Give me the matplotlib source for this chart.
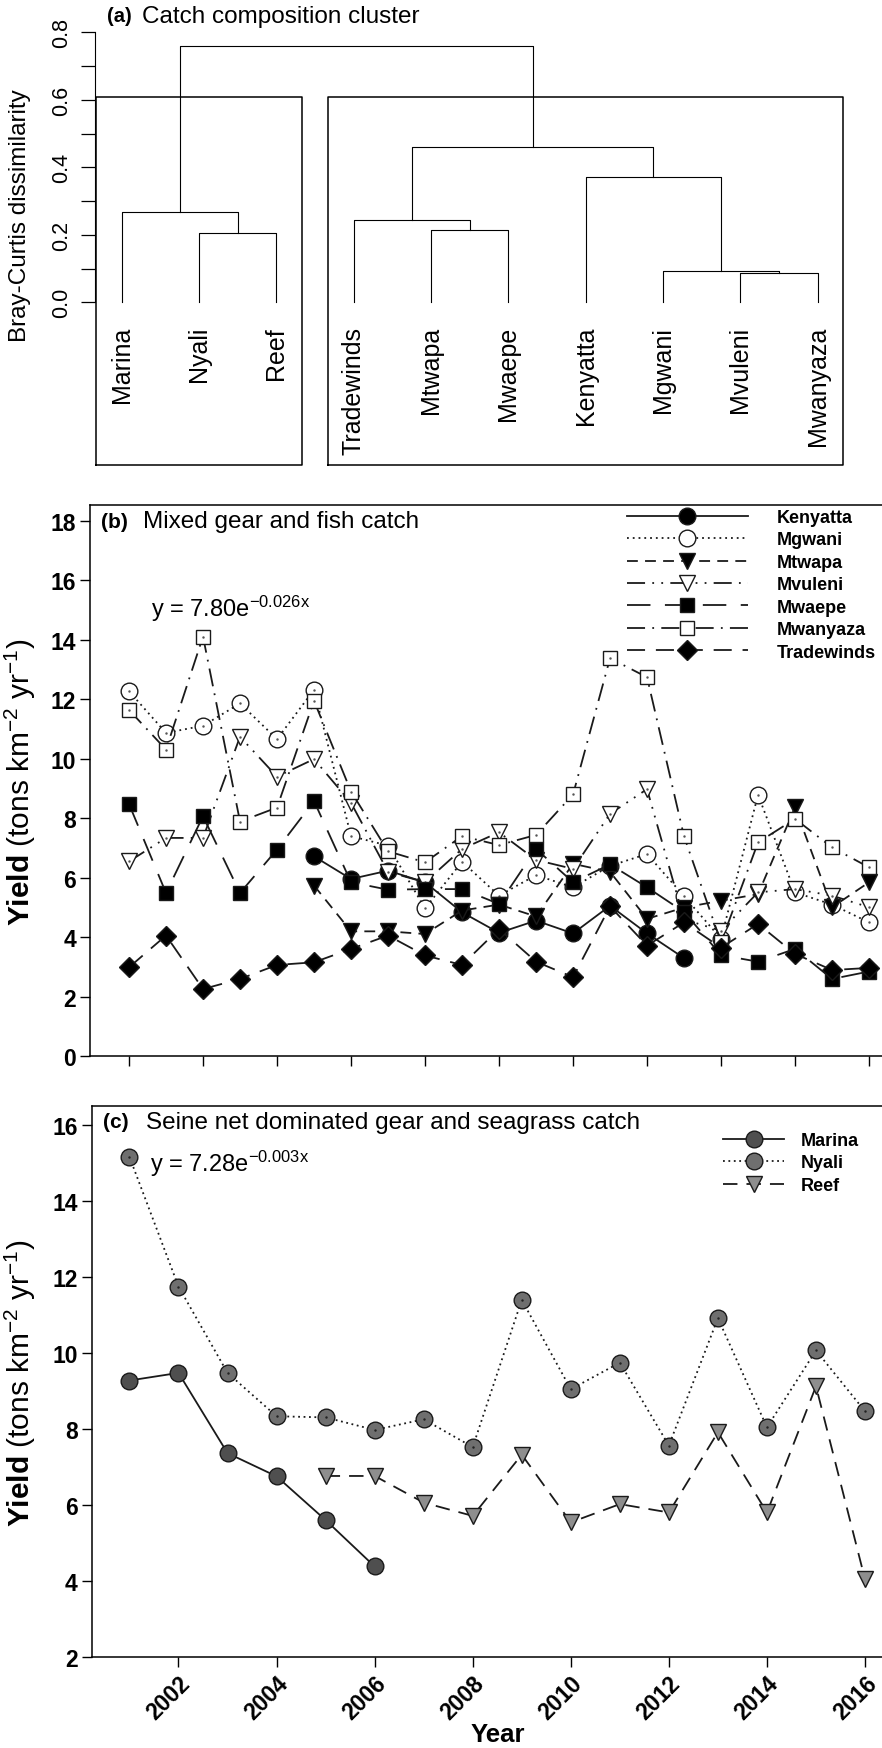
import numpy as np
import matplotlib
matplotlib.use("Agg")
import matplotlib.pyplot as plt
from matplotlib.lines import Line2D

plt.rcParams['font.family'] = ['Liberation Sans', 'DejaVu Sans']
plt.rcParams['mathtext.fontset'] = 'custom'
plt.rcParams['mathtext.rm'] = 'Liberation Sans'
plt.rcParams['mathtext.it'] = 'Liberation Sans:italic'
plt.rcParams['mathtext.bf'] = 'Liberation Sans:bold'

nan = np.nan

# ---- (a) cluster: leaves in plotted order, merges as (left, right, height)
# ints >= 0 are leaves, -k is the k-th merge (1-based)
leaves = ["Marina", "Nyali", "Reef", "Tradewinds", "Mtwapa", "Mwaepe",
          "Kenyatta", "Mgwani", "Mvuleni", "Mwanyaza"]
merges = [(1, 2, 0.205), (0, -1, 0.266), (4, 5, 0.213), (3, -3, 0.243),
          (8, 9, 0.088), (7, -5, 0.094), (6, -6, 0.372), (-4, -7, 0.459),
          (-2, -8, 0.760)]
groups = [(0.67, 3.33), (3.67, 10.33)]
group_top = 0.609
group_bottom = -0.481

# ---- (b) mixed gear sites, 21 sampling points
idx_b = np.arange(21)
kenyatta = [nan] * 5 + [6.72, 5.96, 6.24, 5.85, 4.84, 4.15, 4.56, 4.13, 5.06, 4.13, 3.30] + [nan] * 5
mgwani = [12.27, 10.87, 11.11, 11.86, 10.66, 12.32, 7.40, 7.08, 4.97, 6.54, 5.40,
          6.09, 5.68, 6.40, 6.80, 5.38, 3.95, 8.79, 5.51, 5.10, 4.50]
mtwapa = [nan] * 5 + [5.74, 4.20, 4.20, 4.11, 4.90, 5.10, 4.70, 6.47, 6.20, 4.62,
                      5.00, 5.23, 5.45, 8.37, 5.01, 5.85]
mvuleni = [6.55, 7.34, 7.34, 10.74, 9.40, 9.99, 8.52, 6.20, 5.85, 6.97, 7.53,
           6.60, 6.30, 8.15, 8.98, 4.60, 4.22, 5.51, 5.62, 5.40, 5.01]
mwaepe = [8.48, 5.49, 8.07, 5.49, 6.95, 8.58, 5.85, 5.60, 5.62, 5.62, 5.12,
          6.97, 5.85, 6.45, 5.68, 4.85, 3.40, 3.18, 3.61, 2.60, 2.85]
mwanyaza = [11.64, 10.31, 14.11, 7.89, 8.36, 11.95, 8.90, 6.89, 6.52, 7.40, 7.10,
            7.44, 8.80, 13.38, 12.74, 7.39, 3.83, 7.19, 7.98, 7.02, 6.35]
tradewinds = [2.99, 4.06, 2.26, 2.60, 3.07, 3.16, 3.61, 4.06, 3.39, 3.07, 4.28,
              3.18, 2.66, 5.04, 3.72, 4.50, 3.65, 4.45, 3.44, 2.90, 2.97]
eq_b = r"y = 7.80e$^{\mathrm{-0.026x}}$"

# ---- (c) seine net sites
years_c = np.arange(2001, 2017)
marina = [9.27, 9.47, 7.36, 6.75, 5.60, 4.38] + [nan] * 10
nyali = [15.15, 11.74, 9.47, 8.33, 8.30, 7.97, 8.25, 7.52, 11.39, 9.04, 9.74,
         7.56, 10.91, 8.04, 10.06, 8.46]
reef = [nan] * 4 + [6.76, 6.76, 6.06, 5.71, 7.32, 5.54, 6.02, 5.80, 7.91, 5.80, 9.12, 4.04]
eq_c = r"y = 7.28e$^{\mathrm{-0.003x}}$"

W, H = 882, 1749
fig = plt.figure(figsize=(W / 100, H / 100), dpi=100)


def px_axes(l, t, r, b):
    return fig.add_axes([l / W, 1 - b / H, (r - l) / W, (b - t) / H])


def fig_text(x, y, s, **kw):
    return fig.text(x / W, 1 - y / H, s, **kw)


# ================= panel (a)
ax = px_axes(94.5, 16.4, 882, 472)
ax.set_xlim(0.651, 10.83)
ax.set_ylim(-0.5, 0.85)
nodes = []


def node(k):
    if k >= 0:
        return k + 1, 0.0
    return nodes[-k - 1]


for a, b, h in merges:
    xa, ha = node(a)
    xb, hb = node(b)
    ax.plot([xa, xa, xb, xb], [ha, h, h, hb], color="black", lw=0.8)
    nodes.append(((xa + xb) / 2, h))

for x0, x1 in groups:
    ax.plot([x0, x0, x1, x1, x0], [group_bottom, group_top, group_top, group_bottom, group_bottom],
            color="black", lw=1.1, clip_on=False)

for i, name in enumerate(leaves):
    ax.text(i + 1, -0.07, name, rotation=90, ha="center", va="top", fontsize=18)

for s in ["top", "right", "bottom"]:
    ax.spines[s].set_visible(False)
ax.spines["left"].set_bounds(0, 0.8)
ax.set_xticks([])
ax.set_yticks([0, 0.2, 0.4, 0.6, 0.8])
ax.set_yticklabels(["0.0", "0.2", "0.4", "0.6", "0.8"], rotation=90, va="center")
ax.set_yticks([0.1, 0.3, 0.5, 0.7], minor=True)
ax.tick_params(axis="y", which="both", length=10, width=0.9, labelsize=15.5, pad=6)
fig_text(20, 216, "Bray-Curtis dissimilarity", rotation=90, ha="center", va="center", fontsize=17.5)
fig_text(107, 17, "(a)", fontweight="bold", fontsize=14.5, va="center")
fig_text(142, 17, "Catch composition cluster", fontsize=17.5, va="center")

# ================= panel (b)
ax = px_axes(90, 506, 892, 1057.3)
ax.set_xlim(-1.054, 20.62)
ax.set_ylim(0, 18.53)
series_b = [
    ("Kenyatta", kenyatta, "o", "black", "-", 12),
    ("Mgwani", mgwani, "o", "white", (0, (1, 2.2)), 12),
    ("Mtwapa", mtwapa, "v", "black", (0, (6, 4)), 12),
    ("Mvuleni", mvuleni, "v", "white", (0, (10, 4, 1, 4, 1, 4)), 12),
    ("Mwaepe", mwaepe, "s", "black", (0, (13, 8)), 10.5),
    ("Mwanyaza", mwanyaza, "s", "white", (0, (10, 4, 1, 4)), 10.5),
    ("Tradewinds", tradewinds, "D", "black", (0, (10, 6)), 10),
]
handles = []
for name, vals, mk, fc, ls, ms in series_b:
    ax.plot(idx_b, vals, linestyle=ls, color="#1a1a1a", lw=1.3, marker=mk, ms=ms,
            mfc=fc, mec="#1a1a1a", mew=1.0)
    if fc == "white":
        ax.plot(idx_b, vals, linestyle="none", marker=".", ms=1.5, color="#555555")
    handles.append(Line2D([], [], linestyle=ls, color="#1a1a1a", lw=1.3, marker=mk, ms=ms,
                          mfc=fc, mec="#1a1a1a", mew=1.0, label=name))
ax.set_xticks(np.arange(0, 21, 2))
ax.set_xticklabels([])
ax.set_yticks(np.arange(0, 19, 2))
ax.tick_params(axis="both", length=7, width=1.0, labelsize=16.5, pad=3)
for lab in ax.get_yticklabels():
    lab.set_fontweight("bold")
for s in ax.spines.values():
    s.set_linewidth(1.1)
ax.legend(handles=handles, loc="upper left", bbox_to_anchor=(627 / W, 1 - 510 / H),
          bbox_transform=fig.transFigure, frameon=False, borderpad=0, borderaxespad=0,
          handlelength=6.7, handletextpad=1.6, labelspacing=0.3, numpoints=1,
          prop={"size": 13, "weight": "bold"})
fig_text(101, 522, "(b)", fontweight="bold", fontsize=15, va="center")
fig_text(143, 522, "Mixed gear and fish catch", fontsize=17.5, va="center")
fig_text(151, 617, eq_b, fontsize=17, va="baseline")
fig_text(20, 782, r"$\mathbf{Yield}$ (tons km$^{-2}$ yr$^{-1}$)", rotation=90,
         ha="center", va="center", fontsize=21.5)

# ================= panel (c)
ax = px_axes(91.7, 1107.3, 892, 1658)
ax.set_xlim(2000.23, 2016.55)
ax.set_ylim(2, 16.48)
series_c = [
    ("Marina", marina, "o", "#4f4f4f", "-"),
    ("Nyali", nyali, "o", "#6f6f6f", (0, (1, 2))),
    ("Reef", reef, "v", "#8e8e8e", (0, (8, 5))),
]
handles = []
for name, vals, mk, fc, ls in series_c:
    ax.plot(years_c, vals, linestyle=ls, color="#1a1a1a", lw=1.3, marker=mk, ms=12,
            mfc=fc, mec="#1a1a1a", mew=1.0)
    handles.append(Line2D([], [], linestyle=ls, color="#1a1a1a", lw=1.3, marker=mk, ms=12,
                          mfc=fc, mec="#1a1a1a", mew=1.0, label=name))
ax.plot(years_c, nyali, linestyle="none", marker=".", ms=1.5, color="#222222")
ax.set_xticks(np.arange(2002, 2017, 2))
ax.set_yticks(np.arange(2, 17, 2))
ax.tick_params(axis="both", length=7, width=1.0, labelsize=16.5, pad=3)
for lab in ax.get_yticklabels():
    lab.set_fontweight("bold")
for lab in ax.get_xticklabels():
    lab.set_fontweight("bold")
    lab.set_rotation(45)
    lab.set_rotation_mode("anchor")
    lab.set_ha("right")
    lab.set_va("top")
for s in ax.spines.values():
    s.set_linewidth(1.1)
ax.legend(handles=handles, loc="upper left", bbox_to_anchor=(723 / W, 1 - 1133 / H),
          bbox_transform=fig.transFigure, frameon=False, borderpad=0, borderaxespad=0,
          handlelength=3.4, handletextpad=0.9, labelspacing=0.3, numpoints=1,
          prop={"size": 13, "weight": "bold"})
fig_text(103, 1123, "(c)", fontweight="bold", fontsize=15, va="center")
fig_text(146, 1123, "Seine net dominated gear and seagrass catch", fontsize=17.5, va="center")
fig_text(150, 1172, eq_c, fontsize=17, va="baseline")
fig_text(20, 1383, r"$\mathbf{Yield}$ (tons km$^{-2}$ yr$^{-1}$)", rotation=90,
         ha="center", va="center", fontsize=21.5)
fig_text(498, 1735, "Year", fontweight="bold", fontsize=18.5, ha="center", va="center")

fig.savefig("out.png", dpi=100)
